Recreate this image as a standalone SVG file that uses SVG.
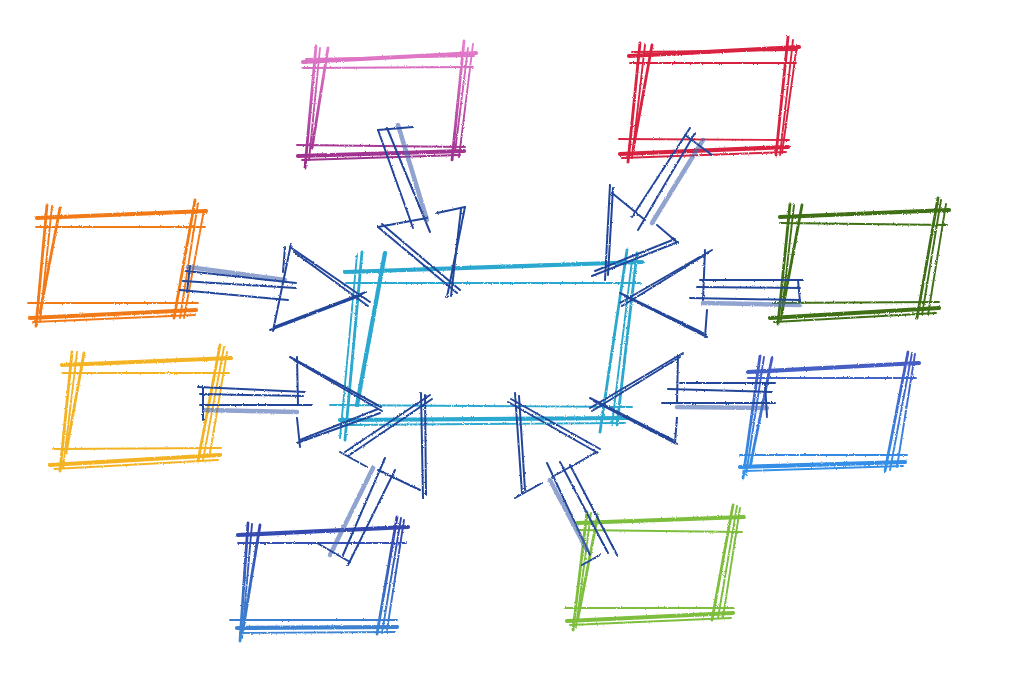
<svg xmlns="http://www.w3.org/2000/svg" width="1024" height="682" viewBox="0 0 1024 682">
<defs>
<linearGradient id="gPink" gradientUnits="userSpaceOnUse" x1="0" y1="45" x2="0" y2="165"><stop offset="0" stop-color="#e67dcc"/><stop offset="1" stop-color="#9a2c8b"/></linearGradient>
<linearGradient id="gBlueR" gradientUnits="userSpaceOnUse" x1="0" y1="350" x2="0" y2="475"><stop offset="0" stop-color="#4756bf"/><stop offset="1" stop-color="#3393ea"/></linearGradient>
<linearGradient id="gBlueL" gradientUnits="userSpaceOnUse" x1="0" y1="515" x2="0" y2="640"><stop offset="0" stop-color="#3340aa"/><stop offset="1" stop-color="#3d89d6"/></linearGradient>
<filter id="pencil" x="-5%" y="-5%" width="110%" height="110%">
<feTurbulence type="fractalNoise" baseFrequency="0.9" numOctaves="2" seed="3" result="noise"/>
<feDisplacementMap in="SourceGraphic" in2="noise" scale="2.2" xChannelSelector="R" yChannelSelector="G"/>
</filter>
</defs>
<style>
line{stroke-linecap:round;fill:none}
.t{stroke-width:4.2}
.m{stroke-width:2.8}
.n{stroke-width:1.9}
.box,#center,#connectors{filter:url(#pencil)}
#pink line{stroke:url(#gPink)}
#red line{stroke:#d82241}
#orange line{stroke:#f27a18}
#yellow line{stroke:#f3b324}
#darkgreen line{stroke:#3f6f16}
#blueright line{stroke:url(#gBlueR)}
#blueleft line{stroke:url(#gBlueL)}
#lightgreen line{stroke:#7ebe3e}
#center line{stroke:#2ba8cf}
#connectors line{stroke:#23469a;stroke-width:2}
#connectors line.s{stroke:#4a68b0;stroke-width:4.5;opacity:.6}
</style>
<rect width="1024" height="682" fill="#ffffff"/>

<g id="center">
<line class="t" x1="345" y1="272" x2="642" y2="262"/>
<line class="n" x1="346" y1="283" x2="640" y2="283"/>
<line class="m" x1="362" y1="252" x2="345" y2="440"/>
<line class="n" x1="357" y1="255" x2="340" y2="438"/>
<line class="t" x1="385" y1="253" x2="357" y2="405"/>
<line class="m" x1="627" y1="250" x2="600" y2="432"/>
<line class="m" x1="637" y1="253" x2="617" y2="425"/>
<line class="n" x1="632" y1="260" x2="612" y2="425"/>
<line class="n" x1="330" y1="405" x2="632" y2="407"/>
<line class="t" x1="340" y1="420" x2="628" y2="418"/>
<line class="n" x1="345" y1="425" x2="625" y2="423"/>
</g>

<g id="pink" class="box">
<line class="t" x1="303" y1="62" x2="476" y2="53"/>
<line class="n" x1="303" y1="68" x2="473" y2="67"/>
<line class="n" x1="306" y1="59" x2="474" y2="56"/>
<line class="m" x1="316" y1="46" x2="305" y2="168"/>
<line class="n" x1="320" y1="48" x2="309" y2="160"/>
<line class="m" x1="328" y1="48" x2="312" y2="148"/>
<line class="m" x1="464" y1="41" x2="452" y2="160"/>
<line class="n" x1="473" y1="44" x2="459" y2="157"/>
<line class="n" x1="468" y1="48" x2="455" y2="152"/>
<line class="n" x1="297" y1="145" x2="465" y2="147"/>
<line class="t" x1="298" y1="156" x2="464" y2="151"/>
<line class="n" x1="302" y1="160" x2="460" y2="155"/>
</g>

<g id="red" class="box">
<line class="t" x1="629" y1="56" x2="799" y2="47"/>
<line class="n" x1="630" y1="63" x2="796" y2="63"/>
<line class="n" x1="632" y1="52" x2="797" y2="50"/>
<line class="m" x1="640" y1="43" x2="628" y2="162"/>
<line class="n" x1="645" y1="45" x2="632" y2="158"/>
<line class="m" x1="652" y1="45" x2="633" y2="150"/>
<line class="m" x1="788" y1="37" x2="776" y2="155"/>
<line class="n" x1="793" y1="40" x2="780" y2="155"/>
<line class="n" x1="797" y1="45" x2="782" y2="153"/>
<line class="n" x1="619" y1="139" x2="789" y2="140"/>
<line class="t" x1="620" y1="154" x2="788" y2="147"/>
<line class="n" x1="622" y1="158" x2="786" y2="152"/>
</g>

<g id="orange" class="box">
<line class="t" x1="37" y1="218" x2="206" y2="211"/>
<line class="n" x1="36" y1="227" x2="205" y2="227"/>
<line class="m" x1="47" y1="205" x2="36" y2="326"/>
<line class="n" x1="52" y1="206" x2="40" y2="322"/>
<line class="m" x1="60" y1="208" x2="40" y2="313"/>
<line class="m" x1="195" y1="200" x2="174" y2="318"/>
<line class="n" x1="198" y1="203" x2="180" y2="318"/>
<line class="n" x1="204" y1="210" x2="184" y2="318"/>
<line class="n" x1="28" y1="303" x2="198" y2="303"/>
<line class="t" x1="30" y1="318" x2="196" y2="310"/>
<line class="n" x1="33" y1="322" x2="195" y2="315"/>
</g>

<g id="yellow" class="box">
<line class="t" x1="62" y1="365" x2="231" y2="358"/>
<line class="n" x1="62" y1="373" x2="229" y2="373"/>
<line class="m" x1="72" y1="352" x2="60" y2="471"/>
<line class="n" x1="77" y1="352" x2="63" y2="468"/>
<line class="m" x1="84" y1="353" x2="66" y2="453"/>
<line class="m" x1="220" y1="345" x2="198" y2="461"/>
<line class="n" x1="224" y1="347" x2="203" y2="460"/>
<line class="n" x1="227" y1="352" x2="210" y2="453"/>
<line class="n" x1="53" y1="449" x2="221" y2="448"/>
<line class="t" x1="50" y1="465" x2="220" y2="455"/>
<line class="n" x1="54" y1="469" x2="218" y2="460"/>
</g>

<g id="darkgreen" class="box">
<line class="t" x1="780" y1="217" x2="949" y2="210"/>
<line class="n" x1="780" y1="223" x2="947" y2="225"/>
<line class="m" x1="790" y1="204" x2="778" y2="324"/>
<line class="n" x1="794" y1="205" x2="781" y2="320"/>
<line class="m" x1="802" y1="205" x2="782" y2="313"/>
<line class="m" x1="938" y1="198" x2="917" y2="318"/>
<line class="n" x1="941" y1="200" x2="922" y2="315"/>
<line class="n" x1="946" y1="204" x2="928" y2="315"/>
<line class="n" x1="773" y1="303" x2="939" y2="302"/>
<line class="t" x1="770" y1="318" x2="939" y2="308"/>
<line class="n" x1="774" y1="322" x2="936" y2="313"/>
</g>

<g id="blueright" class="box">
<line class="t" x1="748" y1="372" x2="919" y2="363"/>
<line class="n" x1="748" y1="378" x2="916" y2="378"/>
<line class="m" x1="760" y1="356" x2="743" y2="478"/>
<line class="n" x1="764" y1="357" x2="746" y2="475"/>
<line class="m" x1="772" y1="358" x2="750" y2="467"/>
<line class="m" x1="908" y1="352" x2="885" y2="471"/>
<line class="n" x1="912" y1="353" x2="890" y2="470"/>
<line class="n" x1="915" y1="354" x2="897" y2="467"/>
<line class="n" x1="740" y1="455" x2="907" y2="455"/>
<line class="t" x1="740" y1="467" x2="905" y2="462"/>
<line class="n" x1="745" y1="471" x2="903" y2="466"/>
</g>

<g id="blueleft" class="box">
<line class="t" x1="238" y1="535" x2="408" y2="527"/>
<line class="n" x1="238" y1="543" x2="406" y2="543"/>
<line class="m" x1="248" y1="523" x2="240" y2="641"/>
<line class="n" x1="252" y1="524" x2="242" y2="638"/>
<line class="m" x1="260" y1="525" x2="243" y2="630"/>
<line class="m" x1="397" y1="517" x2="377" y2="634"/>
<line class="n" x1="401" y1="518" x2="382" y2="633"/>
<line class="n" x1="404" y1="520" x2="387" y2="630"/>
<line class="n" x1="230" y1="620" x2="397" y2="620"/>
<line class="t" x1="237" y1="628" x2="397" y2="627"/>
<line class="n" x1="240" y1="633" x2="395" y2="632"/>
</g>

<g id="lightgreen" class="box">
<line class="t" x1="577" y1="523" x2="744" y2="517"/>
<line class="n" x1="577" y1="530" x2="742" y2="532"/>
<line class="m" x1="587" y1="512" x2="573" y2="630"/>
<line class="n" x1="591" y1="513" x2="576" y2="627"/>
<line class="m" x1="598" y1="514" x2="578" y2="618"/>
<line class="m" x1="733" y1="505" x2="712" y2="620"/>
<line class="n" x1="737" y1="506" x2="718" y2="618"/>
<line class="n" x1="740" y1="508" x2="723" y2="617"/>
<line class="n" x1="565" y1="608" x2="734" y2="608"/>
<line class="t" x1="567" y1="621" x2="733" y2="613"/>
<line class="n" x1="570" y1="625" x2="731" y2="618"/>
</g>

<g id="connectors">
<g>
<line class="s" x1="188" y1="267" x2="285" y2="280"/>
<line x1="186" y1="271" x2="296" y2="283"/>
<line x1="183" y1="281" x2="296" y2="288"/>
<line x1="180" y1="290" x2="288" y2="300"/>
<line x1="190" y1="266" x2="187" y2="292"/>
<line x1="291" y1="244" x2="273" y2="331"/>
<line x1="285" y1="247" x2="283" y2="272"/>
<line x1="290" y1="247" x2="370" y2="302"/>
<line x1="294" y1="252" x2="368" y2="306"/>
<line x1="270" y1="330" x2="362" y2="295"/>
<line x1="274" y1="327" x2="366" y2="292"/>
</g>
<g>
<line x1="198" y1="387" x2="305" y2="392"/>
<line x1="200" y1="394" x2="303" y2="396"/>
<line x1="200" y1="405" x2="312" y2="405"/>
<line class="s" x1="205" y1="410" x2="297" y2="412"/>
<line x1="203" y1="387" x2="203" y2="420"/>
<line x1="297" y1="357" x2="298" y2="405"/>
<line x1="297" y1="418" x2="300" y2="447"/>
<line x1="290" y1="357" x2="381" y2="407"/>
<line x1="294" y1="360" x2="382" y2="411"/>
<line x1="300" y1="440" x2="378" y2="409"/>
<line x1="297" y1="443" x2="380" y2="413"/>
</g>
<g>
<line x1="700" y1="280" x2="803" y2="280"/>
<line x1="697" y1="287" x2="800" y2="288"/>
<line x1="690" y1="298" x2="800" y2="300"/>
<line class="s" x1="703" y1="303" x2="800" y2="305"/>
<line x1="798" y1="280" x2="800" y2="302"/>
<line x1="705" y1="250" x2="703" y2="300"/>
<line x1="707" y1="310" x2="705" y2="337"/>
<line x1="712" y1="250" x2="620" y2="303"/>
<line x1="708" y1="253" x2="622" y2="306"/>
<line x1="620" y1="293" x2="703" y2="333"/>
<line x1="625" y1="296" x2="707" y2="337"/>
</g>
<g>
<line x1="680" y1="383" x2="775" y2="383"/>
<line x1="668" y1="389" x2="772" y2="392"/>
<line x1="662" y1="403" x2="775" y2="403"/>
<line class="s" x1="677" y1="407" x2="767" y2="408"/>
<line x1="765" y1="383" x2="767" y2="417"/>
<line x1="678" y1="355" x2="677" y2="403"/>
<line x1="677" y1="417" x2="675" y2="443"/>
<line x1="683" y1="353" x2="590" y2="408"/>
<line x1="680" y1="357" x2="592" y2="411"/>
<line x1="590" y1="398" x2="673" y2="440"/>
<line x1="594" y1="401" x2="677" y2="444"/>
</g>
<g>
<line x1="378" y1="130" x2="413" y2="228"/>
<line x1="387" y1="128" x2="430" y2="232"/>
<line class="s" x1="398" y1="125" x2="427" y2="220"/>
<line x1="378" y1="130" x2="413" y2="127"/>
<line x1="378" y1="227" x2="427" y2="218"/>
<line x1="437" y1="213" x2="465" y2="207"/>
<line x1="378" y1="227" x2="457" y2="293"/>
<line x1="382" y1="224" x2="460" y2="290"/>
<line x1="465" y1="207" x2="447" y2="297"/>
<line x1="461" y1="209" x2="451" y2="296"/>
</g>
<g>
<line x1="690" y1="128" x2="632" y2="217"/>
<line x1="695" y1="133" x2="638" y2="230"/>
<line class="s" x1="703" y1="140" x2="652" y2="223"/>
<line x1="685" y1="135" x2="712" y2="155"/>
<line x1="612" y1="193" x2="645" y2="220"/>
<line x1="657" y1="225" x2="678" y2="243"/>
<line x1="610" y1="185" x2="605" y2="280"/>
<line x1="613" y1="188" x2="608" y2="275"/>
<line x1="678" y1="242" x2="592" y2="276"/>
<line x1="675" y1="239" x2="595" y2="271"/>
</g>
<g>
<line x1="385" y1="458" x2="343" y2="555"/>
<line x1="395" y1="470" x2="348" y2="565"/>
<line class="s" x1="373" y1="468" x2="330" y2="555"/>
<line x1="317" y1="543" x2="350" y2="562"/>
<line x1="340" y1="452" x2="367" y2="467"/>
<line x1="378" y1="470" x2="420" y2="490"/>
<line x1="345" y1="452" x2="430" y2="395"/>
<line x1="348" y1="456" x2="432" y2="399"/>
<line x1="421" y1="393" x2="423" y2="498"/>
<line x1="425" y1="395" x2="426" y2="495"/>
</g>
<g>
<line x1="547" y1="463" x2="590" y2="555"/>
<line x1="560" y1="462" x2="608" y2="553"/>
<line x1="570" y1="465" x2="617" y2="555"/>
<line class="s" x1="550" y1="480" x2="587" y2="550"/>
<line x1="582" y1="565" x2="600" y2="555"/>
<line x1="597" y1="452" x2="552" y2="477"/>
<line x1="515" y1="498" x2="542" y2="483"/>
<line x1="515" y1="393" x2="522" y2="493"/>
<line x1="519" y1="396" x2="525" y2="490"/>
<line x1="508" y1="402" x2="598" y2="453"/>
<line x1="511" y1="399" x2="600" y2="449"/>
</g>
</g>
</svg>
